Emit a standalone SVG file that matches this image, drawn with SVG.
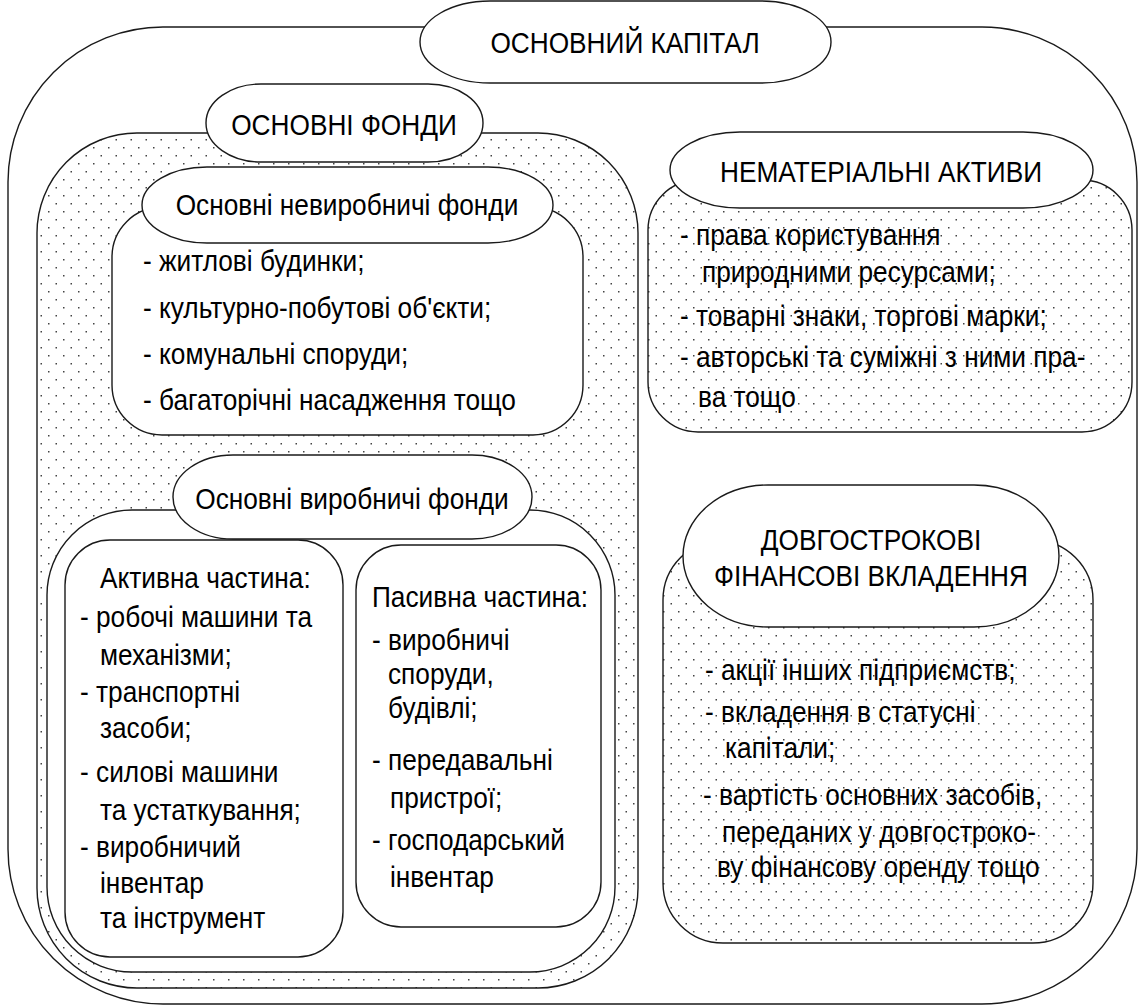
<svg xmlns="http://www.w3.org/2000/svg" width="1139" height="1007" viewBox="0 0 1139 1007">
<defs>
<pattern id="dots" width="15" height="16" patternUnits="userSpaceOnUse">
<rect width="15" height="16" fill="#fff"/>
<rect x="3" y="3" width="1.5" height="1.5" fill="#444"/>
<rect x="10.5" y="11" width="1.5" height="1.5" fill="#444"/>
</pattern>
<style>
.s{stroke:#1a1a1a;stroke-width:1.4;fill:#fff}
.d{stroke:#1a1a1a;stroke-width:1.4;fill:url(#dots)}
text{font-family:"Liberation Sans",Arial,sans-serif;font-size:30px;fill:#000}
.c{text-anchor:middle}
</style>
</defs>
<rect width="1139" height="1007" fill="#fff"/>
<g id="capital">
<rect class="s" x="8" y="27" width="1129" height="977" rx="155" ry="155"/>
<rect class="s" x="420" y="1" width="411" height="82" rx="70" ry="41"/>
<text class="c" transform="translate(625 53) scale(.875 1)">ОСНОВНИЙ КАПІТАЛ</text>
</g>
<g id="fixed-funds">
<rect class="d" x="37" y="133" width="601" height="855" rx="100" ry="100"/>
<rect class="s" x="206" y="84" width="277" height="78" rx="55" ry="39"/>
<text class="c" transform="translate(344 135) scale(.875 1)">ОСНОВНІ ФОНДИ</text>
</g>
<g id="nonproduction">
<rect class="s" x="112" y="207" width="471" height="228" rx="50" ry="50"/>
<rect class="s" x="142" y="167" width="411" height="76" rx="65" ry="38"/>
<text class="c" transform="translate(347 215) scale(.875 1)">Основні невиробничі фонди</text>
<text transform="translate(143 271) scale(.875 1)">- житлові будинки;</text>
<text transform="translate(143 318) scale(.875 1)">- культурно-побутові об'єкти;</text>
<text transform="translate(143 364) scale(.875 1)">- комунальні споруди;</text>
<text transform="translate(143 410) scale(.875 1)">- багаторічні насадження тощо</text>
</g>
<g id="production">
<rect class="s" x="47" y="510" width="568" height="462" rx="85" ry="85"/>
<rect class="s" x="173" y="455" width="359" height="84" rx="60" ry="42"/>
<text class="c" transform="translate(352 509) scale(.875 1)">Основні виробничі фонди</text>
</g>
<g id="active">
<rect class="s" x="65" y="540" width="278" height="417" rx="45" ry="45"/>
<text transform="translate(100 588) scale(.875 1)">Активна частина:</text>
<text transform="translate(80 627) scale(.875 1)">- робочі машини та</text>
<text transform="translate(100 665) scale(.875 1)">механізми;</text>
<text transform="translate(80 702) scale(.875 1)">- транспортні</text>
<text transform="translate(100 738) scale(.875 1)">засоби;</text>
<text transform="translate(80 782) scale(.875 1)">- силові машини</text>
<text transform="translate(100 820) scale(.875 1)">та устаткування;</text>
<text transform="translate(80 857) scale(.875 1)">- виробничий</text>
<text transform="translate(100 893) scale(.875 1)">інвентар</text>
<text transform="translate(100 928) scale(.875 1)">та інструмент</text>
</g>
<g id="passive">
<rect class="s" x="356" y="545" width="245" height="382" rx="45" ry="45"/>
<text transform="translate(372 607) scale(.875 1)">Пасивна частина:</text>
<text transform="translate(372 650) scale(.875 1)">- виробничі</text>
<text transform="translate(388 684) scale(.875 1)">споруди,</text>
<text transform="translate(388 718) scale(.875 1)">будівлі;</text>
<text transform="translate(372 770) scale(.875 1)">- передавальні</text>
<text transform="translate(390 808) scale(.875 1)">пристрої;</text>
<text transform="translate(372 850) scale(.875 1)">- господарський</text>
<text transform="translate(390 887) scale(.875 1)">інвентар</text>
</g>
<g id="intangible">
<rect class="d" x="648" y="180" width="484" height="252" rx="50" ry="50"/>
<rect class="s" x="670" y="132" width="423" height="76" rx="70" ry="38"/>
<text class="c" transform="translate(881 182) scale(.875 1)">НЕМАТЕРІАЛЬНІ АКТИВИ</text>
<text transform="translate(680 245) scale(.875 1)">- права користування</text>
<text transform="translate(702 282) scale(.875 1)">природними ресурсами;</text>
<text transform="translate(680 326) scale(.875 1)">- товарні знаки, торгові марки;</text>
<text transform="translate(680 367) scale(.875 1)">- авторські та суміжні з ними пра-</text>
<text transform="translate(698 407) scale(.875 1)">ва тощо</text>
</g>
<g id="financial">
<rect class="d" x="663" y="540" width="430" height="403" rx="60" ry="60"/>
<rect class="s" x="683" y="485" width="376" height="142" rx="85" ry="71"/>
<text class="c" transform="translate(871 550) scale(.875 1)">ДОВГОСТРОКОВІ</text>
<text class="c" transform="translate(871 586) scale(.875 1)">ФІНАНСОВІ ВКЛАДЕННЯ</text>
<text transform="translate(705 680) scale(.875 1)">- акції інших підприємств;</text>
<text transform="translate(705 722) scale(.875 1)">- вкладення в статусні</text>
<text transform="translate(725 758) scale(.875 1)">капітали;</text>
<text transform="translate(703 805) scale(.875 1)">- вартість основних засобів,</text>
<text transform="translate(722 842) scale(.875 1)">переданих у довгостроко-</text>
<text transform="translate(717 877) scale(.875 1)">ву фінансову оренду тощо</text>
</g>
<g id="connectors"/>
</svg>
